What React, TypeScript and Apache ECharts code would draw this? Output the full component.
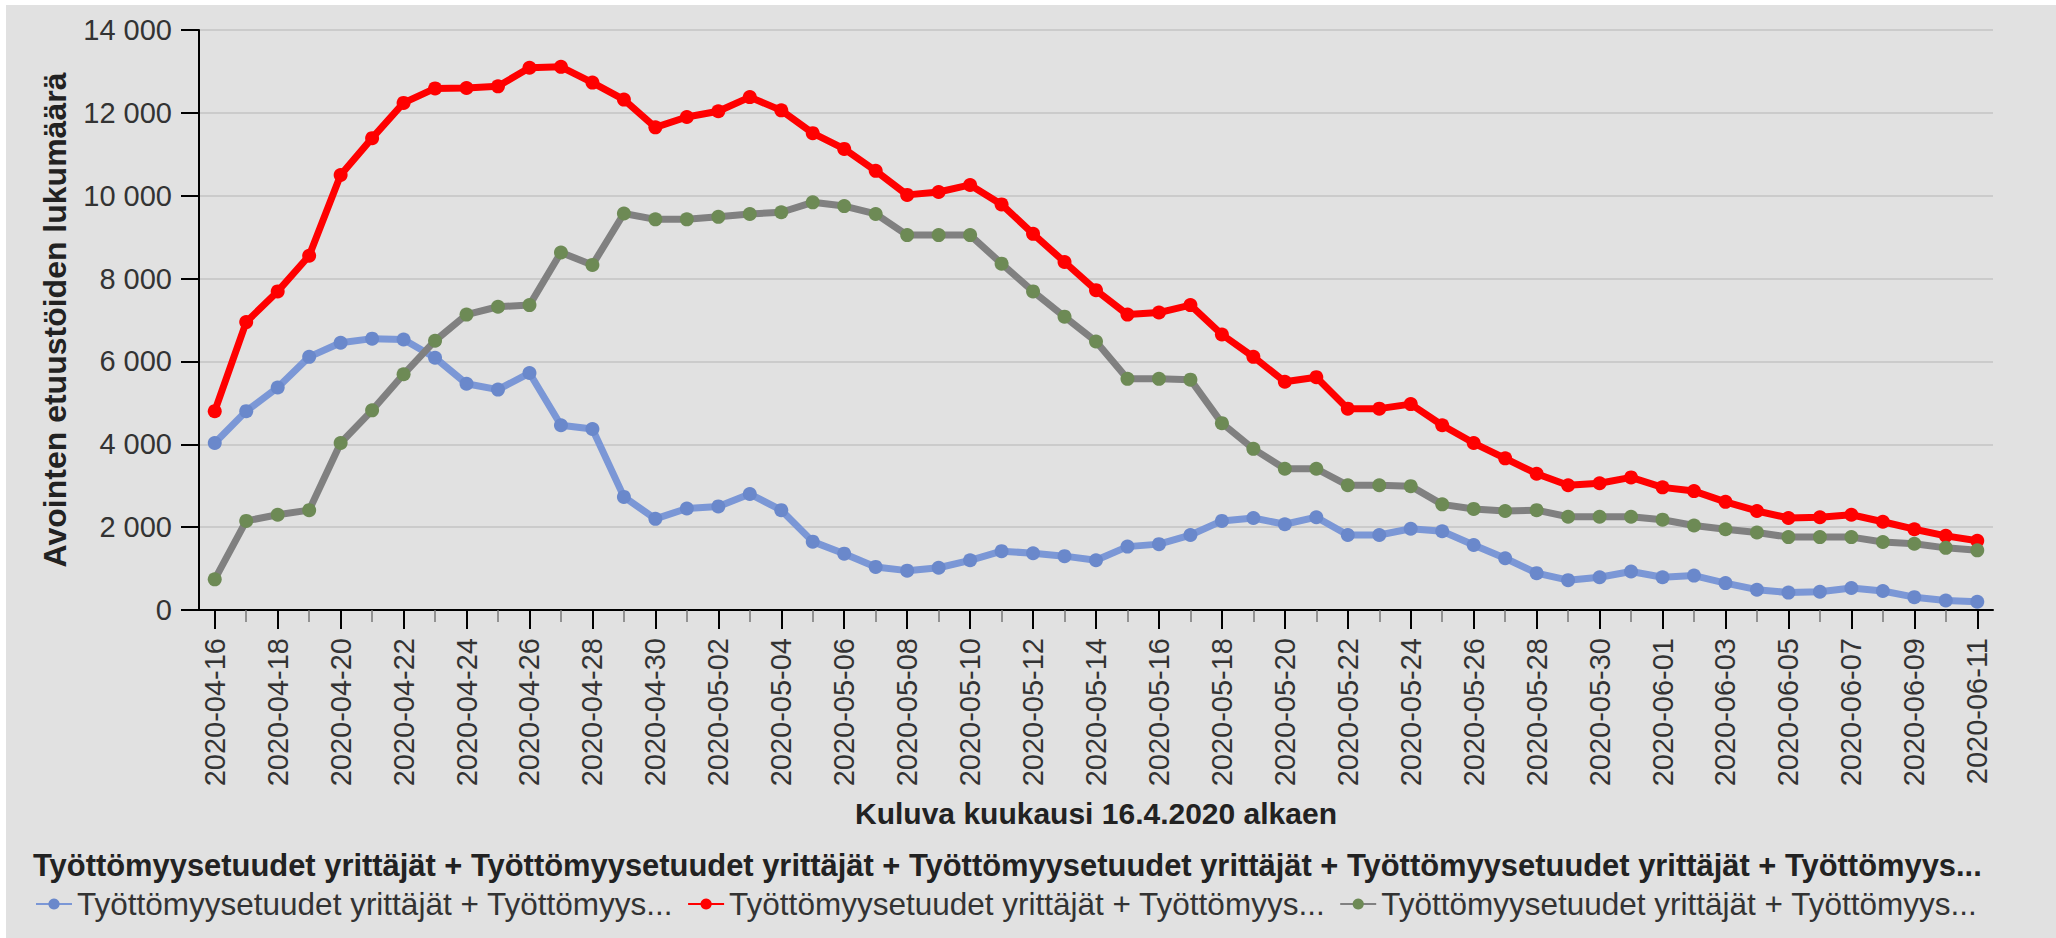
import React, { useEffect, useRef } from "react";
import * as echarts from "echarts";

const categories = [
  "2020-04-16", "2020-04-17", "2020-04-18", "2020-04-19", "2020-04-20", "2020-04-21", "2020-04-22", "2020-04-23",
  "2020-04-24", "2020-04-25", "2020-04-26", "2020-04-27", "2020-04-28", "2020-04-29", "2020-04-30",
  "2020-05-01", "2020-05-02", "2020-05-03", "2020-05-04", "2020-05-05", "2020-05-06", "2020-05-07", "2020-05-08",
  "2020-05-09", "2020-05-10", "2020-05-11", "2020-05-12", "2020-05-13", "2020-05-14", "2020-05-15", "2020-05-16",
  "2020-05-17", "2020-05-18", "2020-05-19", "2020-05-20", "2020-05-21", "2020-05-22", "2020-05-23", "2020-05-24",
  "2020-05-25", "2020-05-26", "2020-05-27", "2020-05-28", "2020-05-29", "2020-05-30", "2020-05-31",
  "2020-06-01", "2020-06-02", "2020-06-03", "2020-06-04", "2020-06-05", "2020-06-06", "2020-06-07", "2020-06-08",
  "2020-06-09", "2020-06-10", "2020-06-11",
];

const seriesBlue = [
  4030, 4800, 5370, 6110, 6450, 6550, 6530, 6090, 5460, 5320, 5720, 4460, 4370, 2730, 2200,
  2450, 2500, 2800, 2410, 1650, 1360, 1040, 950, 1020, 1200, 1420, 1370, 1300, 1200, 1530,
  1590, 1810, 2150, 2220, 2070, 2240, 1810, 1810, 1960, 1900, 1570, 1250, 890, 720, 790,
  930, 790, 830, 650, 490, 420, 440, 530, 460, 310, 230, 200,
];

const seriesRed = [
  4800, 6950, 7690, 8550, 10500, 11390, 12240, 12590, 12600, 12640, 13090, 13110, 12730, 12320, 11650,
  11900, 12040, 12380, 12060, 11510, 11130, 10600, 10020, 10090, 10260, 9790, 9080, 8400, 7720, 7130,
  7180, 7360, 6650, 6110, 5510, 5620, 4860, 4860, 4970, 4460, 4030, 3660, 3290, 3010, 3060,
  3200, 2960, 2870, 2610, 2390, 2220, 2240, 2300, 2130, 1950, 1790, 1670,
];

const seriesGreen = [
  740, 2150, 2300, 2410, 4030, 4820, 5690, 6500, 7130, 7320, 7360, 8630, 8330, 9570, 9430,
  9430, 9490, 9560, 9600, 9840, 9750, 9560, 9050, 9050, 9050, 8360, 7690, 7080, 6480, 5580,
  5580, 5560, 4510, 3890, 3410, 3410, 3010, 3010, 2990, 2550, 2440, 2390, 2410, 2250, 2250,
  2250, 2180, 2040, 1950, 1870, 1760, 1760, 1760, 1640, 1600, 1500, 1440,
];

const seriesIds = ["sarja-1", "sarja-2", "sarja-3"];
const legendLabels = [
  "Työttömyysetuudet yrittäjät + Työttömyys...",
  "Työttömyysetuudet yrittäjät + Työttömyys...",
  "Työttömyysetuudet yrittäjät + Työttömyys...",
];
const legendTitle =
  "Työttömyysetuudet yrittäjät + Työttömyysetuudet yrittäjät + Työttömyysetuudet yrittäjät + Työttömyysetuudet yrittäjät + Työttömyys...";
const xAxisTitle = "Kuluva kuukausi 16.4.2020 alkaen";
const yAxisTitle = "Avointen etuustöiden lukumäärä";

export default function App() {
  const ref = useRef<HTMLDivElement>(null);

  useEffect(() => {
    if (!ref.current) return;
    const chart = echarts.init(ref.current, null, { renderer: "svg" });
    const font = "'Liberation Sans', Arial, Helvetica, sans-serif";
    const fmt = (v: number) =>
      v >= 1000 ? `${Math.floor(v / 1000)} ${String(v % 1000).padStart(3, "0")}` : `${v}`;

    const mkSeries = (idx: number, data: number[], line: string, marker: string) => ({
      type: "line",
      name: seriesIds[idx],
      data,
      xAxisIndex: 0,
      symbol: "circle",
      symbolSize: 14,
      showSymbol: true,
      lineStyle: { color: line, width: 7 },
      itemStyle: { color: marker },
      emphasis: { disabled: true },
    });

    chart.setOption({
      animation: false,
      backgroundColor: "transparent",
      title: {
        text: legendTitle,
        left: 33,
        top: 850,
        padding: 0,
        textStyle: { fontSize: 30.9, fontWeight: "bold", color: "#222", fontFamily: font },
      },
      legend: {
        left: 35,
        top: 888,
        padding: 0,
        itemWidth: 36,
        itemHeight: 14,
        itemGap: 14,
        data: seriesIds,
        formatter: (name: string) => legendLabels[seriesIds.indexOf(name)],
        textStyle: { fontSize: 31.5, color: "#333", fontFamily: font },
      },
      grid: { left: 199, right: 63, top: 30, bottom: 328, containLabel: false },
      xAxis: [
        {
          type: "category",
          data: categories,
          boundaryGap: true,
          axisLine: { show: true, lineStyle: { color: "#000", width: 2 } },
          axisTick: { show: true, alignWithLabel: true, interval: 0, length: 12, lineStyle: { color: "#777", width: 1.5 } },
          axisLabel: { interval: 1, rotate: 90, margin: 28, fontSize: 29, color: "#333", fontFamily: font },
          splitLine: { show: false },
          name: xAxisTitle,
          nameLocation: "middle",
          nameGap: 188,
          nameTextStyle: { fontSize: 30, fontWeight: "bold", color: "#222", fontFamily: font },
        },
        {
          type: "category",
          data: categories,
          boundaryGap: true,
          position: "bottom",
          axisLine: { show: false },
          axisTick: { show: true, alignWithLabel: true, interval: 1, length: 19, lineStyle: { color: "#000", width: 2 } },
          axisLabel: { show: false },
          splitLine: { show: false },
        },
      ],
      yAxis: {
        type: "value",
        min: 0,
        max: 14000,
        interval: 2000,
        axisLine: { show: true, lineStyle: { color: "#000", width: 2 } },
        axisTick: { show: true, length: 18, lineStyle: { color: "#000", width: 2 } },
        axisLabel: { margin: 27, fontSize: 29, color: "#333", fontFamily: font, formatter: fmt },
        splitLine: { show: true, lineStyle: { color: "#cbcbcb", width: 2 } },
        name: yAxisTitle,
        nameLocation: "middle",
        nameGap: 128,
        nameRotate: 90,
        nameTextStyle: { fontSize: 32, fontWeight: "bold", color: "#222", fontFamily: font },
      },
      series: [
        mkSeries(0, seriesBlue, "#7b97d6", "#6a88cb"),
        mkSeries(1, seriesRed, "#ff0000", "#ff0000"),
        mkSeries(2, seriesGreen, "#808080", "#6d8a55"),
      ],
    });

    return () => chart.dispose();
  }, []);

  return (
    <div style={{ position: "fixed", left: 0, top: 0, width: 2056, height: 938, background: "#ffffff" }}>
      <div style={{ position: "absolute", left: 6, top: 5, right: 0, bottom: 0, background: "#e1e1e1" }} />
      <div ref={ref} style={{ position: "absolute", left: 0, top: 0, width: 2056, height: 938 }} />
    </div>
  );
}
